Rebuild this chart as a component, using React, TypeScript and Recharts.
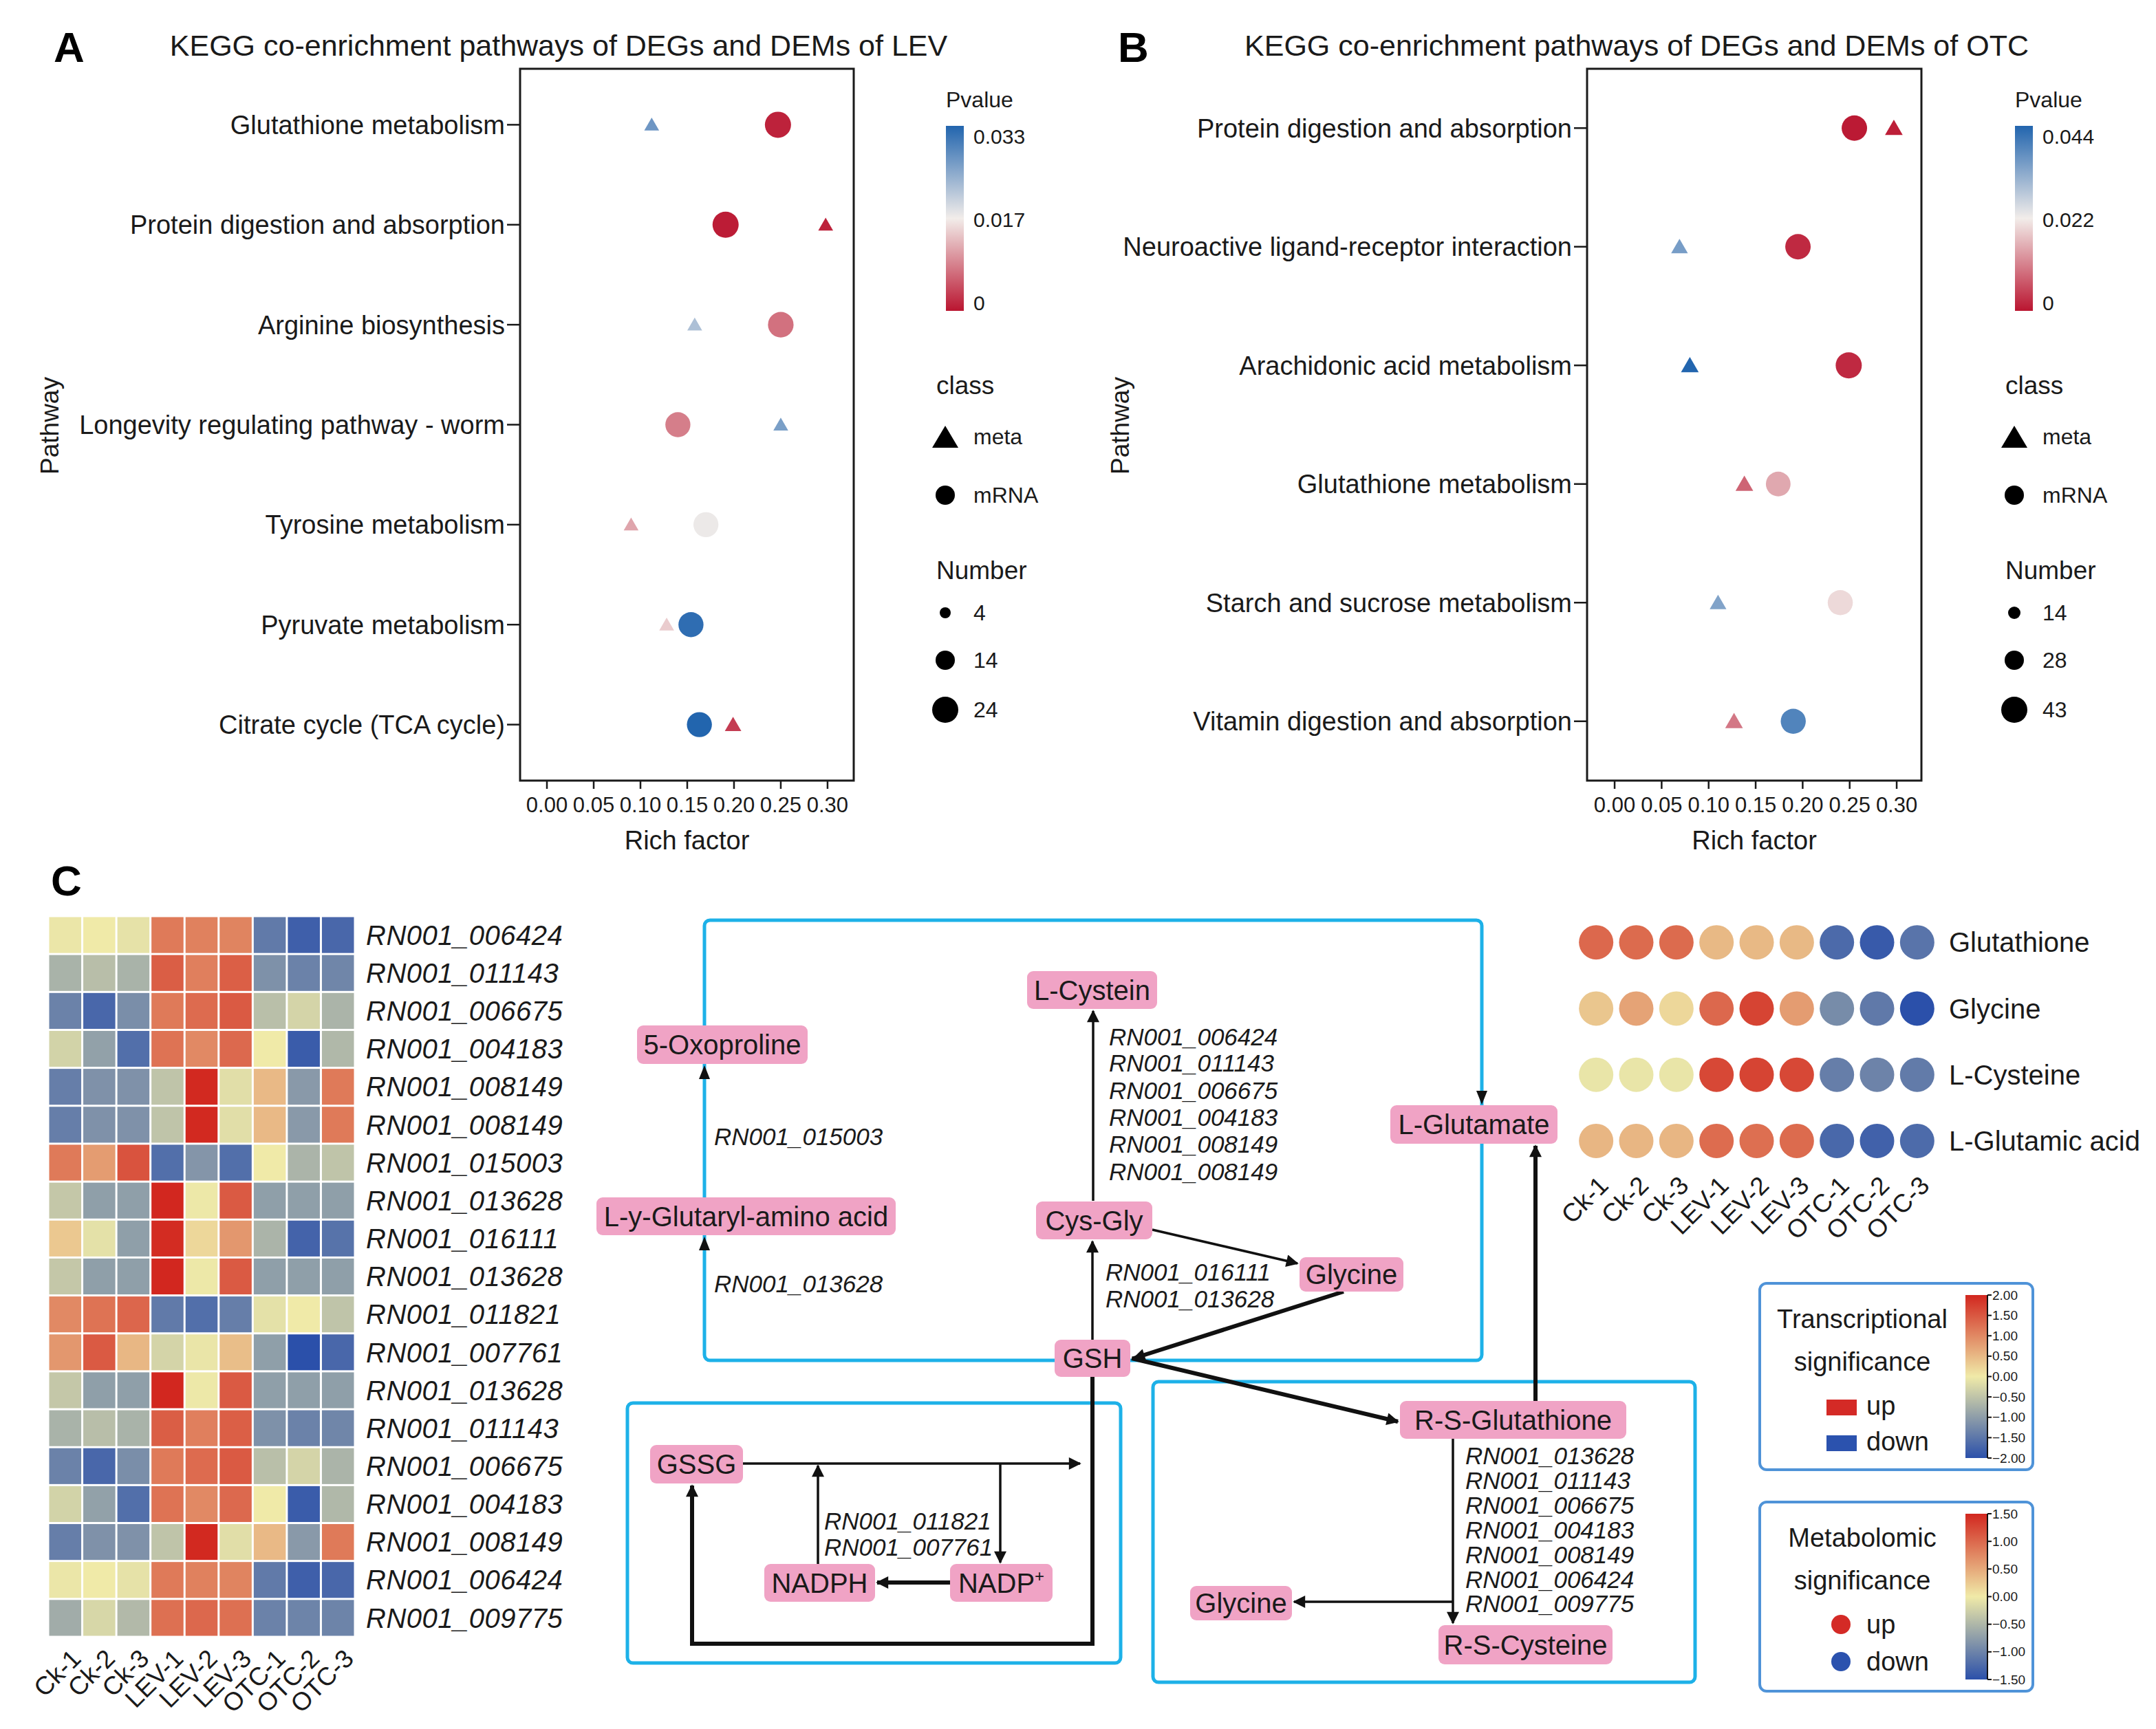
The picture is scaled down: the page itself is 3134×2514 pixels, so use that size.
import React from 'react';
import { ScatterChart, Scatter, XAxis, YAxis, ZAxis, ReferenceArea } from 'recharts';

const FONT = '"Liberation Sans", Arial, Helvetica, sans-serif';
const INK = '#1a1a1a';

// ---- panel A (LEV) ----
const levPathways = [
  'Glutathione metabolism',
  'Protein digestion and absorption',
  'Arginine biosynthesis',
  'Longevity regulating pathway - worm',
  'Tyrosine metabolism',
  'Pyruvate metabolism',
  'Citrate cycle (TCA cycle)',
];
const levMetaRich = [0.112, 0.298, 0.158, 0.25, 0.09, 0.128, 0.199];
const levMetaP = [0.027, 0.001, 0.022, 0.026, 0.011, 0.014, 0.003];
const levMetaNum = [4, 4, 4, 4, 4, 4, 5];
const levMrnaRich = [0.247, 0.191, 0.25, 0.14, 0.17, 0.154, 0.163];
const levMrnaP = [0.001, 0.0005, 0.007, 0.008, 0.017, 0.032, 0.033];
const levMrnaNum = [24, 24, 23, 22, 22, 22, 22];

// ---- panel B (OTC) ----
const otcPathways = [
  'Protein digestion and absorption',
  'Neuroactive ligand-receptor interaction',
  'Arachidonic acid metabolism',
  'Glutathione metabolism',
  'Starch and sucrose metabolism',
  'Vitamin digestion and absorption',
];
const otcMetaRich = [0.297, 0.069, 0.08, 0.138, 0.11, 0.127];
const otcMetaP = [0.001, 0.035, 0.044, 0.008, 0.034, 0.01];
const otcMetaNum = [15, 14, 15, 15, 14, 15];
const otcMrnaRich = [0.255, 0.195, 0.249, 0.174, 0.24, 0.19];
const otcMrnaP = [0.0005, 0.002, 0.002, 0.015, 0.02, 0.039];
const otcMrnaNum = [41, 41, 43, 39, 40, 40];

const richTicks = [0, 0.05, 0.1, 0.15, 0.2, 0.25, 0.3];

// ---- panel C ----
const samples = ['Ck-1', 'Ck-2', 'Ck-3', 'LEV-1', 'LEV-2', 'LEV-3', 'OTC-1', 'OTC-2', 'OTC-3'];
const geneIds = [
  'RN001_006424', 'RN001_011143', 'RN001_006675', 'RN001_004183', 'RN001_008149',
  'RN001_008149', 'RN001_015003', 'RN001_013628', 'RN001_016111', 'RN001_013628',
  'RN001_011821', 'RN001_007761', 'RN001_013628', 'RN001_011143', 'RN001_006675',
  'RN001_004183', 'RN001_008149', 'RN001_006424', 'RN001_009775',
];
const geneExpr = [
  [-0.05, 0.0, -0.1, 1.15, 1.08, 1.05, -1.45, -1.8, -1.7],
  [-0.72, -0.57, -0.72, 1.44, 1.1, 1.43, -1.16, -1.35, -1.3],
  [-1.35, -1.7, -1.2, 1.15, 1.3, 1.48, -0.56, -0.28, -0.7],
  [-0.3, -0.95, -1.6, 1.22, 1.0, 1.32, 0.0, -1.85, -0.65],
  [-1.4, -1.15, -1.15, -0.5, 1.98, -0.15, 0.5, -1.05, 1.15],
  [-1.4, -1.15, -1.15, -0.5, 1.98, -0.15, 0.5, -1.05, 1.15],
  [1.15, 0.8, 1.55, -1.6, -1.1, -1.6, 0.0, -0.7, -0.5],
  [-0.45, -0.98, -0.98, 2.0, -0.03, 1.48, -0.98, -0.98, -0.98],
  [0.35, -0.12, -0.98, 1.95, 0.2, 0.85, -0.7, -1.75, -1.55],
  [-0.45, -0.98, -0.98, 2.0, -0.03, 1.48, -0.98, -0.98, -0.98],
  [1.0, 1.22, 1.35, -1.45, -1.6, -1.4, -0.12, 0.0, -0.5],
  [0.85, 1.48, 0.52, -0.28, -0.06, 0.45, -0.98, -2.0, -1.7],
  [-0.45, -0.98, -0.98, 2.0, -0.03, 1.48, -0.98, -0.98, -0.98],
  [-0.72, -0.57, -0.72, 1.44, 1.1, 1.43, -1.16, -1.35, -1.3],
  [-1.35, -1.7, -1.2, 1.15, 1.3, 1.48, -0.56, -0.28, -0.7],
  [-0.3, -0.95, -1.6, 1.22, 1.0, 1.32, 0.0, -1.85, -0.65],
  [-1.4, -1.15, -1.15, -0.5, 1.98, -0.15, 0.5, -1.05, 1.15],
  [-0.05, 0.0, -0.1, 1.15, 1.08, 1.05, -1.45, -1.8, -1.7],
  [-0.8, -0.25, -0.63, 1.25, 1.33, 1.25, -1.35, -1.33, -1.33],
];
const metabolites = ['Glutathione', 'Glycine', 'L-Cysteine', 'L-Glutamic acid'];
const metaboliteLevels = [
  [1.0, 0.98, 0.98, 0.38, 0.38, 0.38, -1.25, -1.4, -1.15],
  [0.28, 0.55, 0.15, 1.0, 1.28, 0.6, -0.92, -1.1, -1.5],
  [-0.05, -0.05, -0.05, 1.25, 1.28, 1.25, -1.05, -1.0, -1.08],
  [0.4, 0.4, 0.4, 0.97, 0.95, 0.98, -1.27, -1.33, -1.24],
];
const transTicks = ['2.00', '1.50', '1.00', '0.50', '0.00', '\u22120.50', '\u22121.00', '\u22121.50', '\u22122.00'];
const metaTicks = ['1.50', '1.00', '0.50', '0.00', '\u22120.50', '\u22121.00', '\u22121.50'];

// ---- colour helpers ----
type Stop = [number, string];
function rgb(h: string) {
  const n = parseInt(h.slice(1), 16);
  return [(n >> 16) & 255, (n >> 8) & 255, n & 255];
}
function ramp(stops: Stop[], v: number) {
  if (v <= stops[0][0]) return stops[0][1];
  for (let i = 1; i < stops.length; i++) {
    if (v <= stops[i][0]) {
      const t = (v - stops[i - 1][0]) / (stops[i][0] - stops[i - 1][0]);
      const a = rgb(stops[i - 1][1]);
      const b = rgb(stops[i][1]);
      const c = a.map((x, k) => Math.round(x + (b[k] - x) * t));
      return `rgb(${c[0]},${c[1]},${c[2]})`;
    }
  }
  return stops[stops.length - 1][1];
}
const P_LOW = '#BA1530';
const P_MID = '#F2EDEA';
const P_HIGH = '#2265AE';
const H_LOW = '#2B50AA';
const H_MID = '#F0EAA8';
const H_HIGH = '#D2271F';
const exprStops: Stop[] = [[-2, H_LOW], [0, H_MID], [2, H_HIGH]];
const metaStops: Stop[] = [[-1.5, H_LOW], [0, H_MID], [1.5, H_HIGH]];

type Pt = { x: number; y: number; p: number; n: number };
const toRows = (rich: number[], p: number[], num: number[]): Pt[] =>
  rich.map((x, i) => ({ x, y: i + 1, p: p[i], n: num[i] }));

function EnrichPlot(props: {
  left: number;
  width: number;
  yWidth: number;
  plotWidth: number;
  pathways: string[];
  meta: Pt[];
  mrna: Pt[];
  xDomain: [number, number];
  yDomain: [number, number];
  zDomain: [number, number];
  zRange: [number, number];
  pMax: number;
}) {
  const { left, width, yWidth, plotWidth, pathways, meta, mrna, xDomain, yDomain, zDomain, zRange, pMax } = props;
  const pStops: Stop[] = [[0, P_LOW], [pMax / 2, P_MID], [pMax, P_HIGH]];
  const radius = (s: any) => {
    const area = typeof s.size === 'number' ? s.size
      : zRange[0] + ((s.payload.n - zDomain[0]) / (zDomain[1] - zDomain[0])) * (zRange[1] - zRange[0]);
    return Math.sqrt(area / Math.PI);
  };
  const tri = (s: any) => {
    const r = radius(s);
    const hw = r * 1.35;
    const h = hw * 1.732;
    const { cx, cy } = s;
    return (
      <polygon
        points={`${cx},${cy - h * 0.55} ${cx + hw},${cy + h * 0.45} ${cx - hw},${cy + h * 0.45}`}
        fill={ramp(pStops, s.payload.p)}
      />
    );
  };
  const dot = (s: any) => <circle cx={s.cx} cy={s.cy} r={radius(s)} fill={ramp(pStops, s.payload.p)} />;
  return (
    <div style={{ position: 'absolute', left, top: 0 }}>
      <ScatterChart width={width} height={1260} margin={{ top: 100, right: width - yWidth - plotWidth, bottom: 0, left: 0 }}>
        <XAxis
          type="number"
          dataKey="x"
          domain={xDomain}
          ticks={richTicks}
          interval={0}
          allowDataOverflow
          tickFormatter={(v: number) => v.toFixed(2)}
          tick={{ fontSize: 31, fill: INK, fontFamily: FONT }}
          tickSize={12}
          tickMargin={12}
          tickLine={{ stroke: INK, strokeWidth: 2.5 }}
          axisLine={false}
          height={125}
          label={{ value: 'Rich factor', position: 'insideBottom', offset: 25, fontSize: 38, fill: INK, fontFamily: FONT }}
        />
        <YAxis
          type="number"
          dataKey="y"
          domain={yDomain}
          reversed
          ticks={pathways.map((_, i) => i + 1)}
          interval={0}
          allowDataOverflow
          tickFormatter={(v: number) => pathways[v - 1]}
          tick={{ fontSize: 38, fill: INK, fontFamily: FONT }}
          tickSize={19}
          tickMargin={3}
          tickLine={{ stroke: INK, strokeWidth: 2.5 }}
          axisLine={false}
          width={yWidth}
        />
        <ZAxis type="number" dataKey="n" domain={zDomain} range={zRange} />
        <ReferenceArea
          x1={xDomain[0]}
          x2={xDomain[1]}
          y1={yDomain[0]}
          y2={yDomain[1]}
          fill="none"
          fillOpacity={0}
          stroke={INK}
          strokeWidth={3}
          ifOverflow="visible"
        />
        <Scatter data={meta} shape={tri} isAnimationActive={false} />
        <Scatter data={mrna} shape={dot} isAnimationActive={false} />
      </ScatterChart>
    </div>
  );
}

function RotTick(props: any & { dx: number; dy: number }) {
  const { x, y, payload, dx, dy } = props;
  const px = x + dx;
  const py = y + dy;
  return (
    <text x={px} y={py} transform={`rotate(-45 ${px} ${py})`} textAnchor="end" fontSize={37} fill={INK} fontFamily={FONT}>
      {samples[payload.value - 1]}
    </text>
  );
}

const HM_W = 446;
const HM_H = 1048;
function GeneHeatmap() {
  const cells = geneExpr.flatMap((row, r) => row.map((v, c) => ({ col: c + 1, row: r + 1, v })));
  const cw = HM_W / samples.length;
  const ch = HM_H / geneIds.length;
  const cell = (s: any) => (
    <rect x={s.cx - cw / 2 + 1.5} y={s.cy - ch / 2 + 1.5} width={cw - 3} height={ch - 3} fill={ramp(exprStops, s.payload.v)} />
  );
  return (
    <div style={{ position: 'absolute', left: 0, top: 1300 }}>
      <ScatterChart width={900} height={1214} margin={{ top: 32, right: 0, bottom: 0, left: 70 }}>
        <XAxis
          type="number"
          dataKey="col"
          domain={[0.5, 9.5]}
          ticks={samples.map((_, i) => i + 1)}
          interval={0}
          allowDataOverflow
          height={134}
          tickSize={0}
          tickMargin={0}
          tickLine={false}
          axisLine={false}
          tick={(p: any) => <RotTick {...p} dx={25} dy={34} />}
        />
        <YAxis
          type="number"
          dataKey="row"
          orientation="right"
          domain={[0.5, 19.5]}
          reversed
          ticks={geneIds.map((_, i) => i + 1)}
          interval={0}
          allowDataOverflow
          width={384}
          tickSize={0}
          tickMargin={16}
          tickLine={false}
          axisLine={false}
          tickFormatter={(v: number) => geneIds[v - 1]}
          tick={{ fontSize: 40, fontStyle: 'italic', fill: INK, fontFamily: FONT, letterSpacing: 0.5 }}
        />
        <Scatter data={cells} shape={cell} isAnimationActive={false} />
      </ScatterChart>
    </div>
  );
}

function MetaboliteDots() {
  const cells = metaboliteLevels.flatMap((row, r) => row.map((v, c) => ({ col: c + 1, row: r + 1, v })));
  const dot = (s: any) => <circle cx={s.cx} cy={s.cy} r={25} fill={ramp(metaStops, s.payload.v)} />;
  return (
    <div style={{ position: 'absolute', left: 2240, top: 1300 }}>
      <ScatterChart width={894} height={560} margin={{ top: 22, right: 0, bottom: 0, left: 51 }}>
        <XAxis
          type="number"
          dataKey="col"
          domain={[0.5, 9.5]}
          ticks={samples.map((_, i) => i + 1)}
          interval={0}
          allowDataOverflow
          height={153}
          tickSize={0}
          tickMargin={0}
          tickLine={false}
          axisLine={false}
          tick={(p: any) => <RotTick {...p} dx={20} dy={19} />}
        />
        <YAxis
          type="number"
          dataKey="row"
          orientation="right"
          domain={[0.5, 4.5]}
          reversed
          ticks={[1, 2, 3, 4]}
          interval={0}
          allowDataOverflow
          width={318}
          tickSize={0}
          tickMargin={17}
          tickLine={false}
          axisLine={false}
          tickFormatter={(v: number) => metabolites[v - 1]}
          tick={{ fontSize: 40, fill: INK, fontFamily: FONT }}
        />
        <Scatter data={cells} shape={dot} isAnimationActive={false} />
      </ScatterChart>
    </div>
  );
}

function PLegend({ x0, labels, sizes, gid }: { x0: number; labels: string[]; sizes: { r: number; t: string }[]; gid: string }) {
  const tx = x0 + 40;
  const sy = [891, 960, 1032];
  return (
    <g fontFamily={FONT} fill={INK}>
      <defs>
        <linearGradient id={gid} x1="0" y1="0" x2="0" y2="1">
          <stop offset="0" stopColor={P_HIGH} />
          <stop offset="0.5" stopColor={P_MID} />
          <stop offset="1" stopColor={P_LOW} />
        </linearGradient>
      </defs>
      <text x={x0} y={145} fontSize={32} dominantBaseline="central">Pvalue</text>
      <rect x={x0} y={183} width={26} height={269} fill={`url(#${gid})`} />
      {labels.map((l, i) => (
        <text key={l} x={tx} y={[198, 319, 440][i]} fontSize={30} dominantBaseline="central">{l}</text>
      ))}
      <text x={x0 - 14} y={560} fontSize={37} dominantBaseline="central">class</text>
      <polygon points={`${x0 - 1},${619} ${x0 + 18},${651} ${x0 - 20},${651}`} fill="#000" />
      <text x={tx} y={635} fontSize={32} dominantBaseline="central">meta</text>
      <circle cx={x0 - 1} cy={720} r={14} fill="#000" />
      <text x={tx} y={720} fontSize={32} dominantBaseline="central">mRNA</text>
      <text x={x0 - 14} y={829} fontSize={37} dominantBaseline="central">Number</text>
      {sizes.map((s, i) => (
        <g key={s.t}>
          <circle cx={x0 - 1} cy={sy[i]} r={s.r} fill="#000" />
          <text x={tx} y={sy[i]} fontSize={32} dominantBaseline="central">{s.t}</text>
        </g>
      ))}
    </g>
  );
}

const nodes = [
  { l: 'L-Cystein', x1: 1493, y1: 1412, x2: 1682, y2: 1467 },
  { l: '5-Oxoproline', x1: 926, y1: 1491, x2: 1174, y2: 1547 },
  { l: 'L-Glutamate', x1: 2021, y1: 1607, x2: 2264, y2: 1663 },
  { l: 'L-y-Glutaryl-amino acid', x1: 867, y1: 1741, x2: 1302, y2: 1796 },
  { l: 'Cys-Gly', x1: 1506, y1: 1747, x2: 1675, y2: 1802 },
  { l: 'Glycine', x1: 1889, y1: 1828, x2: 2040, y2: 1878 },
  { l: 'GSH', x1: 1533, y1: 1948, x2: 1643, y2: 2002 },
  { l: 'R-S-Glutathione', x1: 2035, y1: 2037, x2: 2364, y2: 2092 },
  { l: 'GSSG', x1: 945, y1: 2101, x2: 1080, y2: 2157 },
  { l: 'NADPH', x1: 1111, y1: 2274, x2: 1272, y2: 2329 },
  { l: 'NADP', x1: 1381, y1: 2274, x2: 1530, y2: 2329, sup: '+' },
  { l: 'Glycine', x1: 1730, y1: 2306, x2: 1878, y2: 2356 },
  { l: 'R-S-Cysteine', x1: 2091, y1: 2363, x2: 2344, y2: 2420 },
];
const geneNotes = [
  { x: 1038, ys: [1653], t: ['RN001_015003'] },
  { x: 1038, ys: [1867], t: ['RN001_013628'] },
  { x: 1612, ys: [1508, 1546, 1586, 1625, 1664, 1704], t: ['RN001_006424', 'RN001_011143', 'RN001_006675', 'RN001_004183', 'RN001_008149', 'RN001_008149'] },
  { x: 1607, ys: [1850, 1889], t: ['RN001_016111', 'RN001_013628'] },
  { x: 1198, ys: [2212, 2250], t: ['RN001_011821', 'RN001_007761'] },
  { x: 2130, ys: [2117, 2153, 2189, 2225, 2261, 2297, 2332], t: ['RN001_013628', 'RN001_011143', 'RN001_006675', 'RN001_004183', 'RN001_008149', 'RN001_006424', 'RN001_009775'] },
];
const thinArrows = [
  'M1589,1746 L1589,1470',
  'M1588,1948 L1588,1805',
  'M1675,1788 L1886,1837',
  'M1080,2128 L1570,2128',
  'M1454,2128 L1454,2272',
  'M1189,2274 L1189,2131',
  'M2112,2092 L2112,2360',
  'M2112,2329 L1881,2329',
];
const thickArrows = [
  'M1953,1878 L1648,1975',
  'M1645,1975 L2032,2067',
  'M2232,2037 L2232,1666',
  'M1381,2301 L1275,2301',
  'M1588,2002 L1588,2390 L1006,2390 L1006,2160',
];

function Diagram() {
  const BLUE = '#1DB1E8';
  const head = (x: number, y: number, dir: 1 | -1) => (
    <polygon points={`${x},${y} ${x - 8},${y - dir * 20} ${x + 8},${y - dir * 20}`} fill="#111" />
  );
  return (
    <g fontFamily={FONT}>
      <defs>
        <marker id="ah" viewBox="0 0 10 10" refX="9" refY="5" markerUnits="userSpaceOnUse" markerWidth="22" markerHeight="18" orient="auto">
          <path d="M0,0 L10,5 L0,10 z" fill="#111" />
        </marker>
      </defs>
      <rect x={1024} y={1338} width={1130} height={640} rx={8} fill="none" stroke={BLUE} strokeWidth={5} />
      <rect x={912} y={2040} width={717} height={378} rx={8} fill="none" stroke={BLUE} strokeWidth={5} />
      <rect x={1676} y={2009} width={788} height={437} rx={8} fill="none" stroke={BLUE} strokeWidth={5} />
      {head(1024, 1549, -1)}
      {head(1024, 1798, -1)}
      {head(2154, 1606, 1)}
      {thinArrows.map((d) => (
        <path key={d} d={d} stroke="#111" strokeWidth={3.5} fill="none" markerEnd="url(#ah)" />
      ))}
      {thickArrows.map((d) => (
        <path key={d} d={d} stroke="#111" strokeWidth={6} fill="none" markerEnd="url(#ah)" />
      ))}
      {nodes.map((n, i) => (
        <g key={i}>
          <rect x={n.x1} y={n.y1} width={n.x2 - n.x1} height={n.y2 - n.y1} rx={9} fill="#F0A3C5" />
          <text x={(n.x1 + n.x2) / 2} y={(n.y1 + n.y2) / 2 + 14} textAnchor="middle" fontSize={40} fill={INK}>
            {n.l}
            {n.sup ? <tspan fontSize={24} dy={-16}>{n.sup}</tspan> : null}
          </text>
        </g>
      ))}
      {geneNotes.map((g) =>
        g.t.map((t, i) => (
          <text key={`${g.x}-${i}`} x={g.x} y={g.ys[i] + 12} fontSize={35} fontStyle="italic" fill={INK}>{t}</text>
        )),
      )}
    </g>
  );
}

function ColorKey({ y0, h, title, ticks, gid, round }: { y0: number; h: number; title: string[]; ticks: string[]; gid: string; round: boolean }) {
  const barTop = y0 + 17;
  const barH = h - 34;
  return (
    <g fontFamily={FONT} fill={INK}>
      <defs>
        <linearGradient id={gid} x1="0" y1="0" x2="0" y2="1">
          <stop offset="0" stopColor={H_HIGH} />
          <stop offset="0.5" stopColor={H_MID} />
          <stop offset="1" stopColor={H_LOW} />
        </linearGradient>
      </defs>
      <rect x={2558} y={y0} width={397} height={h} rx={10} fill="#fff" stroke="#4F93D8" strokeWidth={4} />
      <text x={2707} y={y0 + 52} fontSize={38} textAnchor="middle" dominantBaseline="central">{title[0]}</text>
      <text x={2707} y={y0 + 114} fontSize={38} textAnchor="middle" dominantBaseline="central">{title[1]}</text>
      {round ? (
        <>
          <circle cx={2676} cy={y0 + 178} r={14} fill="#D42A26" />
          <circle cx={2676} cy={y0 + 232} r={14} fill="#2B52AE" />
        </>
      ) : (
        <>
          <rect x={2655} y={y0 + 169} width={44} height={23} fill="#D42A26" />
          <rect x={2655} y={y0 + 221} width={44} height={23} fill="#2B52AE" />
        </>
      )}
      <text x={2713} y={y0 + 178} fontSize={38} dominantBaseline="central">up</text>
      <text x={2713} y={round ? y0 + 232 : y0 + 230} fontSize={38} dominantBaseline="central">down</text>
      <rect x={2857} y={barTop} width={32} height={barH} fill={`url(#${gid})`} />
      <line x1={2889} y1={barTop} x2={2889} y2={barTop + barH} stroke="#111" strokeWidth={2} />
      {ticks.map((t, i) => {
        const yy = barTop + (barH * i) / (ticks.length - 1);
        return (
          <g key={t}>
            <line x1={2889} y1={yy} x2={2895} y2={yy} stroke="#111" strokeWidth={2} />
            <text x={2896} y={yy} fontSize={19} dominantBaseline="central">{t}</text>
          </g>
        );
      })}
    </g>
  );
}

function Overlay() {
  return (
    <svg width={3134} height={2514} style={{ position: 'absolute', left: 0, top: 0, pointerEvents: 'none' }}>
      <g fontFamily={FONT} fill="#000">
        <text x={78} y={68} fontSize={62} fontWeight="bold" dominantBaseline="central">A</text>
        <text x={1625} y={68} fontSize={62} fontWeight="bold" dominantBaseline="central">B</text>
        <text x={74} y={1280} fontSize={62} fontWeight="bold" dominantBaseline="central">C</text>
        <text x={812} y={66} fontSize={43} textAnchor="middle" dominantBaseline="central" fill={INK}>
          KEGG co-enrichment pathways of DEGs and DEMs of LEV
        </text>
        <text x={2379} y={66} fontSize={43} textAnchor="middle" dominantBaseline="central" fill={INK}>
          KEGG co-enrichment pathways of DEGs and DEMs of OTC
        </text>
        <text x={72} y={619} fontSize={37} textAnchor="middle" dominantBaseline="central" transform="rotate(-90 72 619)" fill={INK}>Pathway</text>
        <text x={1628} y={619} fontSize={37} textAnchor="middle" dominantBaseline="central" transform="rotate(-90 1628 619)" fill={INK}>Pathway</text>
      </g>
      <PLegend x0={1375} labels={['0.033', '0.017', '0']} sizes={[{ r: 8, t: '4' }, { r: 14, t: '14' }, { r: 19, t: '24' }]} gid="pgA" />
      <PLegend x0={2929} labels={['0.044', '0.022', '0']} sizes={[{ r: 9, t: '14' }, { r: 14, t: '28' }, { r: 19, t: '43' }]} gid="pgB" />
      <Diagram />
      <ColorKey y0={1866} h={271} title={['Transcriptional', 'significance']} ticks={transTicks} gid="tk" round={false} />
      <ColorKey y0={2184} h={275} title={['Metabolomic', 'significance']} ticks={metaTicks} gid="mk" round />
    </svg>
  );
}

export default function App() {
  return (
    <div style={{ position: 'absolute', left: 0, top: 0, width: 3134, height: 2514, background: '#fff', fontFamily: FONT }}>
      <EnrichPlot
        left={0}
        width={1560}
        yWidth={756}
        plotWidth={485}
        pathways={levPathways}
        meta={toRows(levMetaRich, levMetaP, levMetaNum)}
        mrna={toRows(levMrnaRich, levMrnaP, levMrnaNum)}
        xDomain={[-0.0287, 0.328]}
        yDomain={[0.44, 7.56]}
        zDomain={[4, 24]}
        zRange={[64 * Math.PI, 361 * Math.PI]}
        pMax={0.033}
      />
      <EnrichPlot
        left={1560}
        width={1574}
        yWidth={747}
        plotWidth={486}
        pathways={otcPathways}
        meta={toRows(otcMetaRich, otcMetaP, otcMetaNum)}
        mrna={toRows(otcMrnaRich, otcMrnaP, otcMrnaNum)}
        xDomain={[-0.0293, 0.3263]}
        yDomain={[0.5, 6.5]}
        zDomain={[14, 43]}
        zRange={[81 * Math.PI, 361 * Math.PI]}
        pMax={0.044}
      />
      <GeneHeatmap />
      <MetaboliteDots />
      <Overlay />
    </div>
  );
}
